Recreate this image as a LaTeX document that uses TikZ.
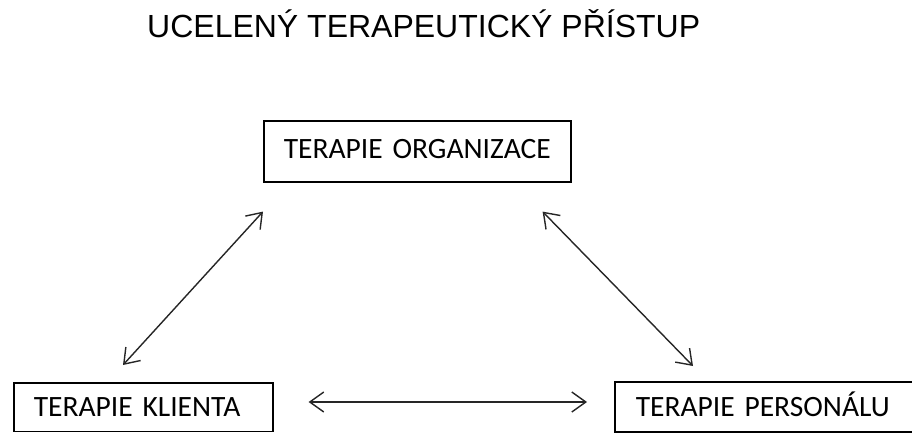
\documentclass[tikz,border=0pt]{standalone}
\usepackage{fontspec}
\setmainfont{Carlito}
\newfontfamily\titlefont{Liberation Sans}
\usetikzlibrary{arrows.meta}
\begin{document}
\begin{tikzpicture}[x=1pt,y=-1pt,
  frame/.style={draw=black, line width=1.6pt},
  box/.style={frame, rectangle, anchor=north west,
    inner ysep=0pt, inner xsep=20pt, align=left,
    font=\fontsize{29.5}{32}\selectfont, text height=19pt, text depth=0pt},
  barb/.tip={Straight Barb[length=14pt,width=20pt]},
  link/.style={draw=black!85, line width=1.4pt, barb-barb},
  heading/.style={anchor=base west, inner sep=0pt,
    font=\titlefont\fontsize{32}{36}\selectfont}]
\useasboundingbox (0,0) rectangle (912,433);

% heading
\node[heading] (title) at (147,38) {UCELENÝ TERAPEUTICKÝ PŘÍSTUP};

% the three therapy boxes; the right one runs off the edge
\node[box, align=center, text width=267pt, minimum height=61pt, text depth=5pt]
  (org) at (263,120) {TERAPIE ORGANIZACE};
\node[box, text width=219pt, minimum height=48.5pt]
  (kl) at (13,382) {TERAPIE KLIENTA};
\node[box, draw=none, text width=300pt, minimum height=48.5pt]
  (pers) at (615,382) {TERAPIE PERSONÁLU};
\draw[frame] (pers.north east) -- (pers.north west) -- (pers.south west) -- (pers.south east);

% two-way links between the boxes
\draw[link] ([shift={(110,-17)}]kl.north west) -- ([shift={(0,29)}]org.south west);
\draw[link] ([shift={(-29,29)}]org.south east) -- ([shift={(78,-16)}]pers.north west);
\draw[link] ([shift={(35,20)}]kl.north east) -- ([shift={(-28,20)}]pers.north west);
\end{tikzpicture}
\end{document}
